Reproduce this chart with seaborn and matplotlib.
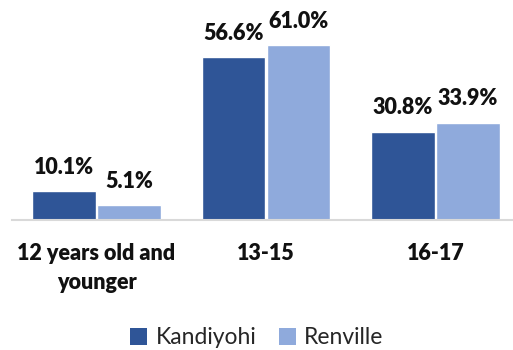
import matplotlib
matplotlib.use("Agg")
import matplotlib.pyplot as plt
from matplotlib.patches import Patch
import pandas as pd
import seaborn as sns

categories = ["12 years old and\nyounger", "13-15", "16-17"]
series = ["Kandiyohi", "Renville"]
kandiyohi = [10.1, 56.6, 30.8]
renville = [5.1, 61.0, 33.9]
colors = ["#2F5597", "#8FAADC"]

df = pd.DataFrame({
    "Age": categories * 2,
    "County": [series[0]] * 3 + [series[1]] * 3,
    "Percent": kandiyohi + renville,
})

sns.set_theme(style="white")
plt.rcParams["font.family"] = ["Lato", "DejaVu Sans"]

fig = plt.figure(figsize=(5.13, 3.5), dpi=100)
ax = fig.add_axes([11.75 / 513, 130 / 350, 508.5 / 513, 201 / 350])

sns.barplot(data=df, x="Age", y="Percent", hue="County", order=categories,
            hue_order=series, palette=colors, width=0.767, gap=0.03,
            saturation=1, legend=False, ax=ax)

for cont in ax.containers:
    ax.bar_label(cont, fmt="%.1f%%", padding=9.5, fontsize=15.5,
                 fontweight="heavy", color="#111111")

ax.set_xlim(-0.5, 2.5)
ax.set_ylim(0, 70)
ax.set_xlabel("")
ax.set_ylabel("")
ax.set_yticks([])
ax.tick_params(axis="x", length=0, pad=16.5, labelsize=15.5)
for lab in ax.get_xticklabels():
    lab.set_fontweight("heavy")
    lab.set_color("#111111")
    lab.set_linespacing(1.45)
for side in ["left", "right", "top"]:
    ax.spines[side].set_visible(False)
ax.spines["bottom"].set_color("#D9D9D9")
ax.spines["bottom"].set_linewidth(1.5)

handles = [Patch(facecolor=c, edgecolor="none", label=s) for c, s in zip(colors, series)]
fig.legend(handles=handles, loc="center", bbox_to_anchor=(257 / 513, 1 - 338 / 350),
           ncol=2, frameon=False, fontsize=16.5, handlelength=0.75, handleheight=0.75,
           handletextpad=0.35, columnspacing=1.0)

fig.savefig("out.png", dpi=100)
